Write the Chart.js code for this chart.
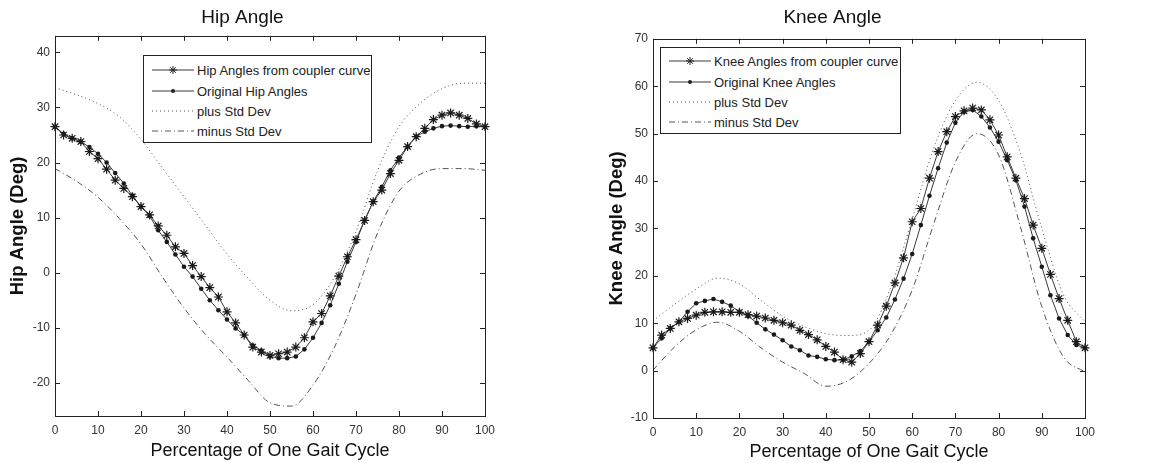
<!DOCTYPE html>
<html><head><meta charset="utf-8">
<script src="https://cdn.jsdelivr.net/npm/chart.js@4.4.1/dist/chart.umd.min.js"></script>
<style>
html,body{margin:0;padding:0;background:#fff;}
#wrap{position:relative;width:1160px;height:463px;overflow:hidden;}
.cv{position:absolute;top:0;width:580px;height:463px;}
.legend{position:absolute;background:#fff;border:1px solid #222;box-sizing:border-box;font:13px "Liberation Sans",Arial,sans-serif;color:#222;}
.legend .row{position:absolute;left:0;height:20px;display:flex;align-items:center;white-space:nowrap;}
.legend svg{display:block;margin-left:8px;margin-right:3px;}
</style>
</head><body>
<div id="wrap">
  <div class="cv" style="left:0"><canvas id="hip" width="580" height="463"></canvas></div>
  <div class="cv" style="left:580px"><canvas id="knee" width="580" height="463"></canvas></div>
  <div class="legend" id="legHip" style="left:143px;top:55px;width:229px;height:88px;"></div>
  <div class="legend" id="legKnee" style="left:660px;top:47px;width:241px;height:87px;"></div>
</div>
<script>
// ---- data ----
const gaitPct = [0,2,4,6,8,10,12,14,16,18,20,22,24,26,28,30,32,34,36,38,40,42,44,46,48,50,52,54,56,58,60,62,64,66,68,70,72,74,76,78,80,82,84,86,88,90,92,94,96,98,100];
const stdPct = [0,5,10,15,20,25,30,35,40,45,50,55,60,65,70,75,80,85,90,95,100];

const hipCoupler = [26.5,25.0,24.4,23.8,22.0,20.7,18.8,16.8,15.3,13.8,12.0,10.5,8.5,6.8,4.7,3.5,1.3,-0.7,-2.7,-4.4,-7.1,-9.1,-11.3,-13.5,-14.4,-15.0,-14.7,-14.4,-13.5,-11.8,-8.9,-7.4,-4.2,-0.6,2.9,6.0,9.5,12.9,15.0,18.0,20.4,22.9,24.7,26.2,27.8,28.6,29.0,28.6,28.0,27.0,26.5];
const hipOriginal = [26.5,25.2,24.4,23.8,22.8,21.6,20.0,18.1,16.2,14.0,12.0,10.3,7.7,5.6,3.3,1.1,-0.7,-2.9,-5.0,-6.8,-8.5,-10.1,-11.3,-13.2,-14.1,-15.2,-15.5,-15.5,-15.2,-13.9,-11.8,-9.1,-5.9,-2.0,2.0,5.6,9.5,12.9,15.6,18.6,20.9,22.9,24.7,25.6,26.2,26.6,26.7,26.6,26.5,26.6,26.5];
const hipPlusStd = [33.6,32.3,30.7,28.3,24.2,19.0,13.8,8.6,3.4,-1.1,-5.0,-6.9,-5.8,-0.8,7.5,18.5,26.5,30.8,33.4,34.4,34.4];
const hipMinusStd = [18.9,16.6,13.7,9.8,5.2,-0.8,-6.4,-11.2,-15.3,-19.6,-23.6,-24.2,-20.4,-13.5,-3.9,7.2,14.8,17.9,18.9,18.9,18.6];

const kneeCoupler = [4.8,7.5,8.9,10.3,11.0,11.7,12.3,12.4,12.4,12.3,12.3,11.8,11.5,11.1,10.6,10.1,9.6,8.5,7.6,6.5,5.1,3.9,2.3,1.8,3.6,6.1,9.6,13.6,18.5,23.8,31.4,34.2,40.6,46.2,50.4,53.6,54.8,55.4,55.0,52.9,49.7,45.1,40.6,36.3,30.7,25.8,20.3,15.2,10.6,6.1,4.8];
const kneeOriginal = [4.8,6.8,8.9,10.3,12.4,14.2,14.7,15.1,14.5,13.7,12.4,11.5,10.1,8.7,7.6,6.4,5.1,4.3,3.2,2.9,2.4,2.2,2.3,3.0,4.1,6.1,8.5,11.2,15.0,19.4,24.6,30.7,36.9,42.7,48.1,52.3,54.6,55.0,53.6,51.3,48.3,44.4,40.2,34.6,27.9,21.9,15.9,11.0,7.5,5.4,4.8];
const kneePlusStd = [10.5,14.0,17.2,19.5,18.3,14.8,11.5,9.3,7.8,7.4,8.5,17.5,32.0,47.0,57.0,60.8,57.0,46.0,30.0,16.0,10.3];
const kneeMinusStd = [0.1,5.0,8.6,10.2,8.3,4.8,1.8,-0.6,-3.3,-2.2,1.5,7.5,17.0,31.0,44.0,50.0,45.5,30.5,13.5,2.9,-0.3];

const xTickValues = [0,10,20,30,40,50,60,70,80,90,100];
const hipYTickValues = [-20,-10,0,10,20,30,40];
const kneeYTickValues = [-10,0,10,20,30,40,50,60,70];

const hipLabels = ['Hip Angles from coupler curve','Original Hip Angles','plus Std Dev','minus Std Dev'];
const kneeLabels = ['Knee Angles from coupler curve','Original Knee Angles','plus Std Dev','minus Std Dev'];

// ---- helpers ----
const FONT = '"Liberation Sans", Arial, sans-serif';
const LINE = '#3a3a3a';
const STD = '#555';
const pts = (xs, ys) => xs.map((x, i) => ({x: x, y: ys[i]}));

const frameTicks = {
  id: 'frameTicks',
  afterDraw(chart) {
    const {ctx, chartArea: a, scales} = chart;
    const L = 5;
    ctx.save();
    ctx.strokeStyle = '#222';
    ctx.lineWidth = 1;
    ctx.beginPath();
    scales.x.ticks.forEach(t => {
      const px = Math.round(scales.x.getPixelForValue(t.value)) + 0.5;
      ctx.moveTo(px, a.bottom); ctx.lineTo(px, a.bottom - L);
      ctx.moveTo(px, a.top); ctx.lineTo(px, a.top + L);
    });
    scales.y.ticks.forEach(t => {
      const py = Math.round(scales.y.getPixelForValue(t.value)) + 0.5;
      ctx.moveTo(a.left, py); ctx.lineTo(a.left + L, py);
      ctx.moveTo(a.right, py); ctx.lineTo(a.right - L, py);
    });
    ctx.stroke();
    ctx.strokeRect(Math.round(a.left) + 0.5, Math.round(a.top) + 0.5, Math.round(a.right - a.left), Math.round(a.bottom - a.top));
    ctx.restore();
  }
};

function makeChart(id, cfg) {
  const datasets = [
    {label: cfg.labels[0], data: pts(gaitPct, cfg.coupler), borderColor: LINE, backgroundColor: LINE,
     borderWidth: 1, pointStyle: 'star', pointRadius: 4.5, pointBorderWidth: 1.2, pointBorderColor: '#1a1a1a', tension: 0, clip: false},
    {label: cfg.labels[1], data: pts(gaitPct, cfg.original), borderColor: LINE, backgroundColor: '#1a1a1a',
     borderWidth: 1, pointStyle: 'circle', pointRadius: 2.3, pointBorderWidth: 0, pointBackgroundColor: '#1a1a1a', tension: 0, clip: false},
    {label: cfg.labels[2], data: pts(stdPct, cfg.plus), borderColor: STD, borderWidth: 1, borderDash: [1, 3],
     pointRadius: 0, tension: 0.4, cubicInterpolationMode: 'monotone'},
    {label: cfg.labels[3], data: pts(stdPct, cfg.minus), borderColor: STD, borderWidth: 1, borderDash: [6, 3, 1, 3],
     pointRadius: 0, tension: 0.4, cubicInterpolationMode: 'monotone'}
  ];
  return new Chart(document.getElementById(id), {
    type: 'line',
    data: {datasets},
    options: {
      responsive: false, animation: false, devicePixelRatio: 1,
      layout: {padding: {left: 0, right: cfg.padRight, top: 0, bottom: 0}},
      plugins: {
        legend: {display: false}, tooltip: {enabled: false},
        title: {display: true, text: cfg.title, color: '#111', font: {family: FONT, size: 19, weight: 'normal'},
                padding: {top: 6, bottom: cfg.titlePadBottom}}
      },
      scales: {
        x: {
          type: 'linear', min: 0, max: 100,
          afterBuildTicks: s => { s.ticks = xTickValues.map(v => ({value: v})); },
          afterFit: s => { s.height = cfg.xHeight; },
          grid: {display: false, drawTicks: false},
          border: {display: false},
          ticks: {color: '#333', padding: 7, font: {family: FONT, size: 12}, maxRotation: 0},
          title: {display: true, text: 'Percentage of One Gait Cycle', color: '#111',
                  font: {family: FONT, size: 18}, padding: {top: 0, bottom: cfg.xTitlePad}}
        },
        y: {
          type: 'linear', min: cfg.ymin, max: cfg.ymax,
          afterBuildTicks: s => { s.ticks = cfg.yTicks.map(v => ({value: v})); },
          afterFit: s => { s.width = cfg.yWidth; },
          grid: {display: false, drawTicks: false},
          border: {display: false},
          ticks: {color: '#333', padding: 5, font: {family: FONT, size: 12}},
          title: {display: true, text: cfg.ytitle, color: '#111',
                  font: {family: FONT, size: 18.5, weight: 'bold'}, padding: {top: cfg.yTitlePad, bottom: 0}}
        }
      }
    },
    plugins: [frameTicks]
  });
}

makeChart('hip', {
  labels: hipLabels, coupler: hipCoupler, original: hipOriginal, plus: hipPlusStd, minus: hipMinusStd,
  title: 'Hip Angle', ytitle: 'Hip Angle (Deg)', ymin: -26, ymax: 43, yTicks: hipYTickValues,
  padRight: 95, yWidth: 55, xHeight: 47, titlePadBottom: 7, xTitlePad: 1, yTitlePad: 7
});
makeChart('knee', {
  labels: kneeLabels, coupler: kneeCoupler, original: kneeOriginal, plus: kneePlusStd, minus: kneeMinusStd,
  title: 'Knee Angle', ytitle: 'Knee Angle (Deg)', ymin: -10, ymax: 70, yTicks: kneeYTickValues,
  padRight: 75, yWidth: 73, xHeight: 45, titlePadBottom: 10, xTitlePad: 0, yTitlePad: 26
});

// ---- legends (HTML text) ----
function sample(kind) {
  const w = 42, h = 20, m = 10;
  let s = `<svg width="${w}" height="${h}" viewBox="0 0 ${w} ${h}">`;
  if (kind === 0 || kind === 1) s += `<line x1="0" y1="${m}" x2="${w}" y2="${m}" stroke="${LINE}" stroke-width="1"/>`;
  if (kind === 0) {
    const c = w / 2, r = 4, d = 2.8;
    s += `<path d="M${c-r} ${m}H${c+r}M${c} ${m-r}V${m+r}M${c-d} ${m-d}L${c+d} ${m+d}M${c-d} ${m+d}L${c+d} ${m-d}" stroke="#222" stroke-width="1"/>`;
  }
  if (kind === 1) s += `<circle cx="${w/2}" cy="${m}" r="2" fill="#222"/>`;
  if (kind === 2) s += `<line x1="0" y1="${m}" x2="${w}" y2="${m}" stroke="${STD}" stroke-width="1" stroke-dasharray="1,3"/>`;
  if (kind === 3) s += `<line x1="0" y1="${m}" x2="${w}" y2="${m}" stroke="${STD}" stroke-width="1" stroke-dasharray="6,3,1,3"/>`;
  return s + '</svg>';
}
function buildLegend(id, labels, tops) {
  const el = document.getElementById(id);
  labels.forEach((t, i) => {
    const row = document.createElement('div');
    row.className = 'row';
    row.style.top = tops[i] + 'px';
    row.innerHTML = sample(i) + '<span>' + t + '</span>';
    el.appendChild(row);
  });
}
buildLegend('legHip', hipLabels, [4, 25, 45, 65]);
buildLegend('legKnee', kneeLabels, [3, 24, 44, 64]);
</script>
</body></html>
